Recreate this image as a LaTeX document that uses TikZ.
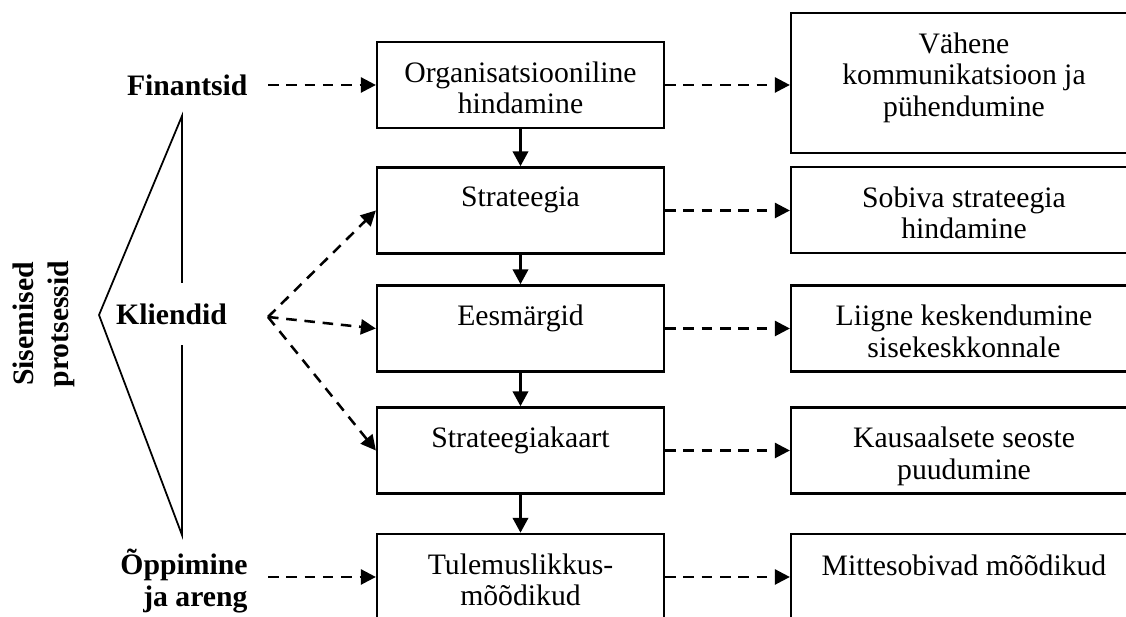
\documentclass[tikz,border=0pt]{standalone}
\usepackage{fontspec}
\setmainfont{Liberation Serif}
\usetikzlibrary{arrows.meta}

\begin{document}
\begin{tikzpicture}[
    box/.style={draw, line width=0.032000cm, minimum width=4.075000cm, minimum height=1.221000cm, inner sep=0},
    sidebox/.style={box, minimum width=4.913000cm},
    boxtext/.style={anchor=north, align=center, inner sep=0},
    sidelabel/.style={font=\bfseries, inner xsep=0.284000cm, inner ysep=0, anchor=east},
    flowarrow/.style={line width=0.050000cm, -{Triangle[length=0.213000cm, width=0.213000cm]}},
    dasharrow/.style={line width=0.036000cm, dash pattern=on 0.150000cm off 0.110000cm, -{Triangle[length=0.213000cm, width=0.213000cm]}}
  ]
                    \clip (0,0) rectangle (15.989200,8.761400);
                    {\fontsize{12pt}{12.9pt}\selectfont

                    % Drawing middle column boxes
                    \node [box] (org) at (7.391100,7.554400) {};%
                    \node [boxtext] (org-txt) at ([yshift=-0.285000cm]org.north) {Organisatsiooniline\\hindamine};%
                    \node [box] (strat) at (7.391100,5.772300) {};%
                    \node [boxtext] (strat-txt) at ([yshift=-0.285000cm]strat.north) {Strateegia};%
                    \node [box] (eesm) at (7.391100,4.096700) {};%
                    \node [boxtext] (eesm-txt) at ([yshift=-0.285000cm]eesm.north) {Eesmärgid};%
                    \node [box] (kaart) at (7.391100,2.364300) {};%
                    \node [boxtext] (kaart-txt) at ([yshift=-0.285000cm]kaart.north) {Strateegiakaart};%
                    \node [box] (tulem) at (7.391100,0.568000) {};%
                    \node [boxtext] (tulem-txt) at ([yshift=-0.285000cm]tulem.north) {Tulemuslikkus-\\mõõdikud};%

                    % Drawing right column boxes
                    \node [sidebox, minimum height=1.988000cm] (vahene) at (13.688800,7.582800) {};%
                    \node [boxtext] (vahene-txt) at ([yshift=-0.285000cm]vahene.north) {Vähene\\kommunikatsioon ja\\pühendumine};%
                    \node [sidebox] (sobiva) at (13.688800,5.779400) {};%
                    \node [boxtext] (sobiva-txt) at ([yshift=-0.285000cm]sobiva.north) {Sobiva strateegia\\hindamine};%
                    \node [sidebox] (liigne) at (13.688800,4.096700) {};%
                    \node [boxtext] (liigne-txt) at ([yshift=-0.285000cm]liigne.north) {Liigne keskendumine\\sisekeskkonnale};%
                    \node [sidebox] (kausaal) at (13.688800,2.364300) {};%
                    \node [boxtext] (kausaal-txt) at ([yshift=-0.285000cm]kausaal.north) {Kausaalsete seoste\\puudumine};%
                    \node [sidebox] (mitte) at (13.688800,0.568000) {};%
                    \node [boxtext] (mitte-txt) at ([yshift=-0.300000cm]mitte.north) {Mittesobivad mõõdikud};%

                    % Drawing triangle
                    \draw [line width=0.025000cm] (2.584400,7.114200) -- (1.405800,4.288200) -- (2.584400,1.164000) -- cycle;%

                    % Marking left labels
                    \node [rotate=90, align=center, font=\bfseries\fontsize{12pt}{14pt}\selectfont] (sisemised) at (0.624800,4.160600) {Sisemised\\protsessid};%
                    \node [sidelabel] (fin) at (3.805600,7.554400) {Finantsid};%
                    \node [font=\bfseries, fill=white, inner xsep=0.020000cm, minimum height=0.880000cm] (kliendid) at (2.435300,4.300000) {Kliendid};%
                    \coordinate (kl-out) at (3.805600,4.260000);%
                    \node [sidelabel, align=right] (opp) at (3.805600,0.511200) {Õppimine\\ja areng};%

                    % Drawing arrows down the middle column
                    \draw [flowarrow] (org.south) -- (strat.north);%
                    \draw [flowarrow] (strat.south) -- (eesm.north);%
                    \draw [flowarrow] (eesm.south) -- (kaart.north);%
                    \draw [flowarrow] (kaart.south) -- (tulem.north);%

                    % Drawing dashed arrows from left labels
                    \draw [dasharrow] (fin.east) -- (org.west);%
                    \draw [dasharrow] (kl-out) -- (strat.west);%
                    \draw [dasharrow] (kl-out) -- (eesm.west);%
                    \draw [dasharrow] (kl-out) -- (kaart.west);%
                    \draw [dasharrow] (opp.east |- tulem.west) -- (tulem.west);%

                    % Drawing dashed arrows to right column
                    \draw [dasharrow] (org.east) -- (org.east -| vahene.west);%
                    \draw [dasharrow] (strat.east) -- (strat.east -| sobiva.west);%
                    \draw [dasharrow] (eesm.east) -- (eesm.east -| liigne.west);%
                    \draw [dasharrow] (kaart.east) -- (kaart.east -| kausaal.west);%
                    \draw [dasharrow] (tulem.east) -- (tulem.east -| mitte.west);%
                    }
\end{tikzpicture}
\end{document}
